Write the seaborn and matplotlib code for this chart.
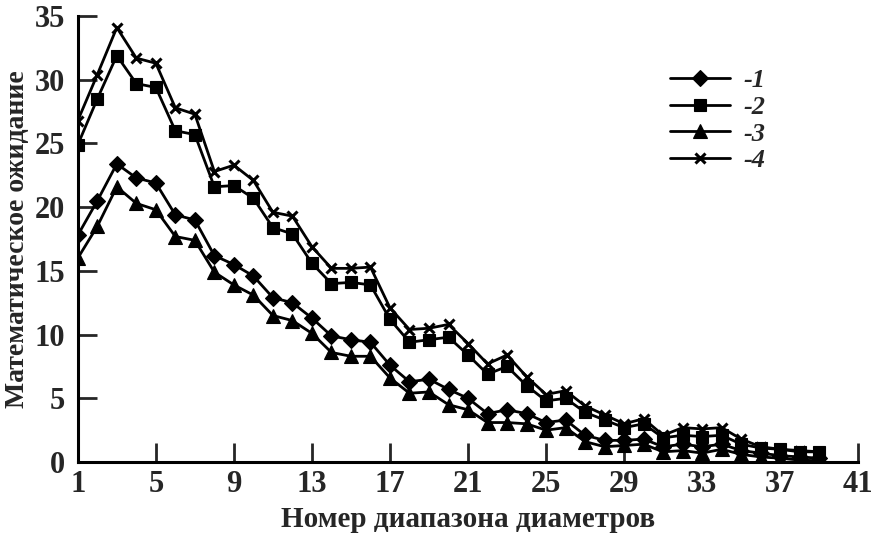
import numpy as np
import pandas as pd
import seaborn as sns
import matplotlib.pyplot as plt

# номер диапазона диаметров
ranges = list(range(1, 40))

series_1 = [17.8, 20.5, 23.4, 22.3, 21.9, 19.4, 19.0, 16.2, 15.5, 14.6,
            12.9, 12.5, 11.3, 9.9, 9.6, 9.4, 7.6, 6.3, 6.5, 5.7,
            5.0, 3.8, 4.1, 3.8, 3.1, 3.3, 2.1, 1.7, 1.7, 1.8,
            1.2, 1.4, 1.2, 1.4, 0.9, 0.7, 0.5, 0.4, 0.3]
series_2 = [24.9, 28.5, 31.9, 29.7, 29.4, 26.0, 25.7, 21.6, 21.7, 20.7,
            18.4, 17.9, 15.6, 14.0, 14.1, 13.9, 11.2, 9.4, 9.6, 9.8,
            8.4, 6.9, 7.5, 6.0, 4.8, 5.0, 3.9, 3.3, 2.7, 3.0,
            1.9, 2.1, 2.0, 2.1, 1.4, 1.1, 1.0, 0.8, 0.8]
series_3 = [16.0, 18.5, 21.6, 20.3, 19.8, 17.7, 17.4, 14.9, 13.9, 13.1,
            11.5, 11.1, 10.1, 8.6, 8.3, 8.3, 6.6, 5.4, 5.5, 4.5,
            4.1, 3.1, 3.1, 3.0, 2.5, 2.7, 1.6, 1.2, 1.3, 1.4,
            0.8, 0.9, 0.7, 1.0, 0.6, 0.4, 0.3, 0.15, 0.1]
series_4 = [26.8, 30.4, 34.1, 31.7, 31.3, 27.8, 27.3, 22.8, 23.3, 22.1,
            19.6, 19.3, 16.9, 15.2, 15.2, 15.3, 12.1, 10.4, 10.5, 10.8,
            9.3, 7.7, 8.4, 6.7, 5.3, 5.6, 4.4, 3.7, 3.0, 3.4,
            2.1, 2.7, 2.6, 2.7, 1.8, 1.2, 1.0, 0.9, 0.8]

labels = ["-1", "-2", "-3", "-4"]
x_ticks = [1, 5, 9, 13, 17, 21, 25, 29, 33, 37, 41]
y_ticks = [0, 5, 10, 15, 20, 25, 30, 35]

sns.set_style("ticks")
plt.rcParams['font.family'] = ['Liberation Serif', 'DejaVu Serif']
plt.rcParams['font.weight'] = 'bold'

fig = plt.figure(figsize=(8.74, 5.36), dpi=100)
ax = fig.add_axes([0.089, 0.138, 0.893, 0.832])

styles = [("D", 8.5), ("s", 8), ("^", 10), ("x", 7.5)]
for vals, lab, (mk, ms) in zip([series_1, series_2, series_3, series_4], labels, styles):
    df = pd.DataFrame({"x": ranges, "y": vals})
    sns.lineplot(data=df, x="x", y="y", ax=ax, color="black", linewidth=2.0,
                 marker=mk, markersize=ms, markeredgewidth=2.2 if mk == "x" else 0.8,
                 markeredgecolor="black", markerfacecolor="black", label=lab)

ax.set_xlim(1, 41)
ax.set_ylim(0, 35)
ax.set_xticks(x_ticks)
ax.set_yticks(y_ticks)
ax.tick_params(direction="in", length=14, width=2, labelsize=22)
ax.tick_params(axis="x", pad=6)
ax.tick_params(axis="y", pad=9)
for s in ["top", "right"]:
    ax.spines[s].set_visible(False)
for s in ["left", "bottom"]:
    ax.spines[s].set_linewidth(2.2)
    ax.spines[s].set_color("black")

ax.set_xlabel("Номер диапазона диаметров", fontsize=21, fontweight="bold", labelpad=5)
ax.set_ylabel("Математическое ожидание", fontsize=20, fontweight="bold", labelpad=3)

leg = ax.legend(loc="upper left", bbox_to_anchor=(0.728, 0.935), frameon=False,
                handlelength=2.3, handletextpad=0.5, labelspacing=0.12,
                prop={"size": 19, "style": "italic", "weight": "bold"})

plt.savefig("out.png", dpi=100)
